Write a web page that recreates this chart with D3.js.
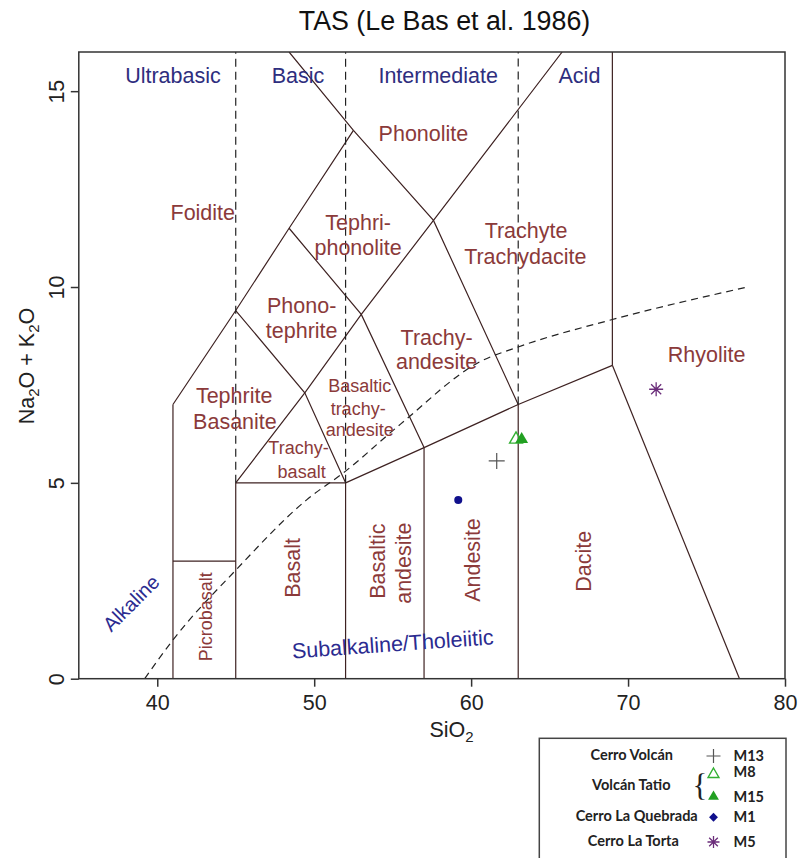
<!DOCTYPE html>
<html><head><meta charset="utf-8">
<script src="https://cdn.jsdelivr.net/npm/d3@7"></script>
<style>body{margin:0;background:#fff} svg{display:block;font-family:"Liberation Sans",Arial,sans-serif}</style>
</head><body><svg id="c" width="799" height="858"></svg>
<script>
// ---- data ----
const xDomain = [35, 80];
const yDomain = [0, 16];
const xTicks = [40, 50, 60, 70, 80];
const yTicks = [0, 5, 10, 15];

// TAS field boundaries (SiO2, Na2O+K2O)
const boundaries = [
  [[41,0],[41,7]],
  [[41,3],[45,3]],
  [[45,0],[45,5]],
  [[45,5],[52,5]],
  [[52,0],[52,5]],
  [[57,0],[57,5.9]],
  [[63,0],[63,7]],
  [[52,5],[57,5.9],[63,7],[69,8]],
  [[69,8],[69,16]],
  [[69,8],[77.1,0]],
  [[41,7],[45,9.4],[48.4,11.5],[52.5,14]],
  [[45,9.4],[49.4,7.3],[52,5]],
  [[45,5],[49.4,7.3],[53,9.3],[57.6,11.7],[65.8,16]],
  [[48.4,11.5],[53,9.3],[57,5.9]],
  [[48.4,16],[52.5,14],[57.6,11.7],[63,7]]
];
// Ultrabasic / Basic / Intermediate / Acid dividers
const dividers = [
  [[45,5],[45,16]],
  [[52,5],[52,16]],
  [[63,7],[63,16]]
];
// Alkaline / Subalkaline divide
const alkCurveSiO2 = [39.2, 41, 45, 49.5, 52, 55.5, 60.6, 63, 69, 77.6];
const alkCurveAlk  = [0, 0.99, 2.77, 4.56, 5.3, 6.5, 8.1, 8.47, 9.17, 10.0];

const zoneLabels = [
  ["Phonolite", 56.96, 13.91],
  ["Foidite", 42.9, 11.9],
  ["Tephri-", 52.8, 11.66],
  ["phonolite", 52.8, 11.02],
  ["Trachyte", 63.5, 11.45],
  ["Trachydacite", 63.45, 10.77],
  ["Phono-", 49.2, 9.54],
  ["tephrite", 49.2, 8.88],
  ["Trachy-", 57.8, 8.72],
  ["andesite", 57.8, 8.09],
  ["Rhyolite", 75.0, 8.28],
  ["Tephrite", 44.9, 7.24],
  ["Basanite", 44.95, 6.56]
];
const smallZoneLabels = [
  ["Basaltic", 52.9, 7.47],
  ["trachy-", 52.8, 6.9],
  ["andesite", 52.9, 6.36],
  ["Trachy-", 49.0, 5.89],
  ["basalt", 49.2, 5.28]
];
const verticalZoneLabels = [
  ["Picrobasalt", 43.08, 1.58],
  ["Basalt", 48.6, 2.83],
  ["Basaltic", 54.0, 3.0],
  ["andesite", 55.7, 2.95],
  ["Andesite", 60.1, 3.03],
  ["Dacite", 67.13, 3.0]
];
const seriesLabels = [
  ["Ultrabasic", 41.0, 15.4, 0],
  ["Basic", 48.97, 15.4, 0],
  ["Intermediate", 57.9, 15.4, 0],
  ["Acid", 66.9, 15.4, 0],
  ["Alkaline", 38.33, 1.93, -45],
  ["Subalkaline/Tholeiitic", 55.0, 0.89, -4]
];

const groups = ["Cerro Volcán", "Volcán Tatio", "Cerro La Quebrada", "Cerro La Torta"];
const sampleIds = ["M13", "M8", "M15", "M1", "M5"];
const sampleSiO2 = [61.63, 62.86, 63.22, 59.18, 71.79];
const sampleAlk = [5.56, 6.11, 6.11, 4.56, 7.39];
const sampleKind = ["plus", "triOpen", "triFill", "dot", "star"];

// ---- drawing ----
const svg = d3.select("#c");
const x = d3.scaleLinear().domain(xDomain).range([78.8, 785]);
const y = d3.scaleLinear().domain(yDomain).range([678.7, 52]);
const lineColor = "#3e2222", zoneColor = "#8b3a3a", blue = "#2e2e7e";

svg.append("defs").append("clipPath").attr("id","clip")
  .append("rect").attr("x", x(35)).attr("y", y(16)).attr("width", x(80)-x(35)).attr("height", y(0)-y(16));

const plot = svg.append("g").attr("clip-path","url(#clip)");
const line = d3.line().x(d=>x(d[0])).y(d=>y(d[1]));

plot.selectAll("path.b").data(boundaries).join("path")
  .attr("d", line).attr("fill","none").attr("stroke", lineColor).attr("stroke-width", 1.2);
plot.selectAll("path.d").data(dividers).join("path")
  .attr("d", line).attr("fill","none").attr("stroke","#222").attr("stroke-width",1.2).attr("stroke-dasharray","8,5");

const curvePts = alkCurveSiO2.map((v,i)=>[v, alkCurveAlk[i]]);
plot.append("path").attr("d", d3.line().x(d=>x(d[0])).y(d=>y(d[1])).curve(d3.curveMonotoneX)(curvePts))
  .attr("fill","none").attr("stroke","#222").attr("stroke-width",1.2).attr("stroke-dasharray","7,5");

// labels
plot.selectAll("text.z").data(zoneLabels).join("text")
  .attr("x", d=>x(d[1])).attr("y", d=>y(d[2])).attr("dy","0.35em")
  .attr("text-anchor","middle").attr("font-size",21.5).attr("fill",zoneColor).text(d=>d[0]);
plot.selectAll("text.s").data(smallZoneLabels).join("text")
  .attr("x", d=>x(d[1])).attr("y", d=>y(d[2])).attr("dy","0.35em")
  .attr("text-anchor","middle").attr("font-size",18).attr("fill",zoneColor).text(d=>d[0]);
plot.selectAll("text.v").data(verticalZoneLabels).join("text")
  .attr("transform", d=>`translate(${x(d[1])},${y(d[2])}) rotate(-90)`).attr("dy","0.35em")
  .attr("text-anchor","middle").attr("font-size", d=>d[0]==="Picrobasalt"?18:21.5).attr("fill",zoneColor).text(d=>d[0]);
plot.selectAll("text.g").data(seriesLabels).join("text")
  .attr("transform", d=>`translate(${x(d[1])},${y(d[2])}) rotate(${d[3]})`).attr("dy","0.35em")
  .attr("text-anchor","middle").attr("font-size", d=>d[0]==="Alkaline"?20:21.5)
  .attr("fill", d=>d[3]===0?blue:"#2b2b90").text(d=>d[0]);

// samples
const colors = {plus:"#555", triOpen:"#33b033", triFill:"#22a022", dot:"#10108c", star:"#6b2d7a"};
function drawMarker(g, kind, cx, cy, s) {
  if (kind==="plus") {
    g.append("path").attr("d",`M${cx-s},${cy}H${cx+s}M${cx},${cy-s}V${cy+s}`).attr("stroke",colors.plus).attr("stroke-width",1.2);
  } else if (kind==="star") {
    const k = s*0.72;
    g.append("path").attr("d",`M${cx-s},${cy}H${cx+s}M${cx},${cy-s}V${cy+s}M${cx-k},${cy-k}L${cx+k},${cy+k}M${cx-k},${cy+k}L${cx+k},${cy-k}`)
      .attr("stroke",colors.star).attr("stroke-width",1.3);
  } else if (kind==="triOpen") {
    g.append("path").attr("d", d3.symbol(d3.symbolTriangle, s*s*1.7)()).attr("transform",`translate(${cx},${cy})`)
      .attr("fill","none").attr("stroke",colors.triOpen).attr("stroke-width",1.4);
  } else if (kind==="triFill") {
    g.append("path").attr("d", d3.symbol(d3.symbolTriangle, s*s*1.7)()).attr("transform",`translate(${cx},${cy})`)
      .attr("fill",colors.triFill);
  } else if (kind==="dot") {
    g.append("circle").attr("cx",cx).attr("cy",cy).attr("r",s*0.62).attr("fill",colors.dot);
  } else if (kind==="diamond") {
    g.append("path").attr("d", d3.symbol(d3.symbolSquare, s*s*1.3)()).attr("transform",`translate(${cx},${cy}) rotate(45)`).attr("fill",colors.dot);
  }
}
const pts = svg.append("g");
sampleIds.forEach((id,i)=>{
  const s = sampleKind[i]==="plus" ? 8 : sampleKind[i]==="star" ? 7 : 6.5;
  drawMarker(pts, sampleKind[i], x(sampleSiO2[i]), y(sampleAlk[i]), s);
});

// frame and axes
svg.append("rect").attr("x", x(35)).attr("y", y(16)).attr("width", x(80)-x(35)).attr("height", y(0)-y(16))
  .attr("fill","none").attr("stroke","#333").attr("stroke-width",1.5);

const xa = svg.append("g").attr("transform",`translate(0,${y(0)})`)
  .call(d3.axisBottom(x).tickValues(xTicks).tickSize(8).tickPadding(8).tickFormat(d3.format("d")));
xa.select(".domain").remove();
xa.selectAll("line").attr("stroke","#333").attr("stroke-width",1.5);
xa.selectAll("text").attr("font-size",21.5).attr("font-family","Liberation Sans, Arial").attr("fill","#222");

const ya = svg.append("g").attr("transform",`translate(${x(35)},0)`)
  .call(d3.axisLeft(y).tickValues(yTicks).tickSize(8).tickFormat(d3.format("d")));
ya.select(".domain").remove();
ya.selectAll("line").attr("stroke","#333").attr("stroke-width",1.5);
ya.selectAll("text").attr("x",null).attr("dy",null).attr("text-anchor","middle")
  .attr("transform", d=>`translate(-15.3,0) rotate(-90)`)
  .attr("font-size",21.5).attr("font-family","Liberation Sans, Arial").attr("fill","#222");

// titles
svg.append("text").attr("x",444.5).attr("y",30).attr("text-anchor","middle").attr("font-size",26.8).attr("fill","#111")
  .text("TAS (Le Bas et al. 1986)");

const xt = svg.append("text").attr("x",451.5).attr("y",737).attr("text-anchor","middle").attr("font-size",21.5).attr("fill","#222");
xt.append("tspan").text("SiO");
xt.append("tspan").attr("font-size",15).attr("dy",5).text("2");

const yt = svg.append("text").attr("transform","translate(33.5,366) rotate(-90)").attr("text-anchor","middle").attr("font-size",21.5).attr("fill","#222");
yt.append("tspan").text("Na");
yt.append("tspan").attr("font-size",15).attr("dy",5).text("2");
yt.append("tspan").attr("dy",-5).text("O + K");
yt.append("tspan").attr("font-size",15).attr("dy",5).text("2");
yt.append("tspan").attr("dy",-5).text("O");

// legend
const lg = svg.append("g").attr("font-family","Lato, 'Open Sans', sans-serif").attr("font-weight","bold").attr("font-size",14.5).attr("fill","#222");
lg.append("rect").attr("x",539.3).attr("y",738.3).attr("width",786-539.3).attr("height",140)
  .attr("fill","#fff").attr("stroke","#444").attr("stroke-width",1.5);
const groupY = [760, 790, 821, 846];
const groupX = [631.7, 631.3, 636.7, 633.3];
groups.forEach((g,i)=>{
  lg.append("text").attr("x",groupX[i]).attr("y",groupY[i]).attr("text-anchor","middle").text(g);
});
const legSymY = [756, 774.3, 796.7, 817.3, 842];
const legLabY = [761, 776.5, 801.5, 822, 846.5];
const legKinds = ["plus","triOpen","triFill","diamond","star"];
sampleIds.forEach((id,i)=>{
  drawMarker(lg, legKinds[i], 713.5, legSymY[i], legKinds[i]==="plus"?7:legKinds[i]==="star"?6:5.5);
  lg.append("text").attr("x",733.5).attr("y",legLabY[i]).text(id);
});
lg.append("text").attr("x",700).attr("y",796).attr("text-anchor","middle").attr("font-weight","normal")
  .attr("font-family","Liberation Serif, serif").attr("font-size",31).text("{");
</script></body></html>
